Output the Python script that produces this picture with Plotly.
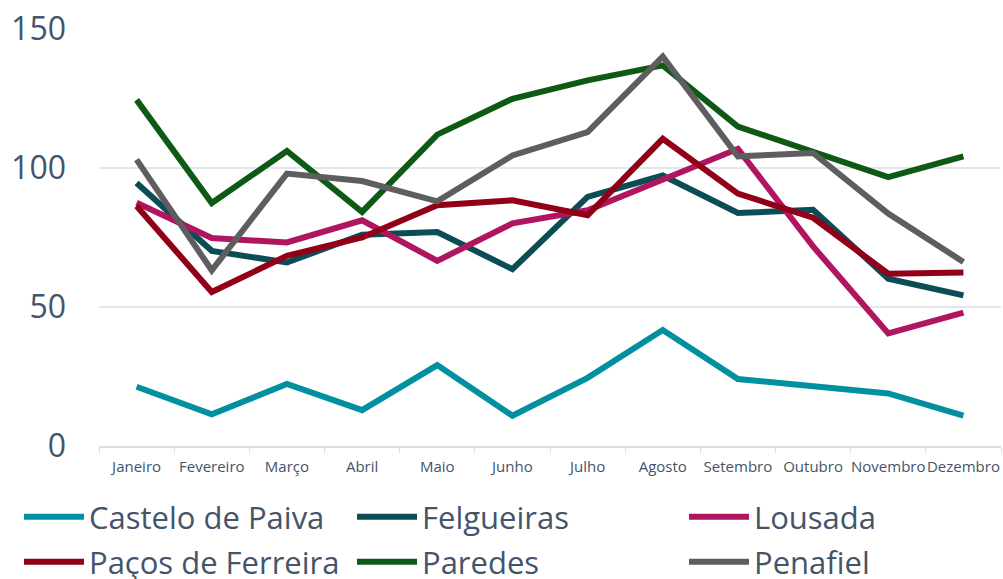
import plotly.graph_objects as go

months = ["Janeiro", "Fevereiro", "Março", "Abril", "Maio", "Junho", "Julho",
          "Agosto", "Setembro", "Outubro", "Novembro", "Dezembro"]

castelo_de_paiva = [21.3, 11.4, 22.3, 12.9, 29.1, 10.9, 24.5, 41.7, 24.1, 21.7, 18.9, 10.9]
felgueiras = [94.6, 70.2, 66.0, 76.0, 77.0, 63.6, 89.6, 97.3, 83.8, 85.0, 60.2, 54.2]
lousada = [87.5, 74.8, 73.2, 81.2, 66.6, 80.1, 84.8, 95.8, 106.9, 71.8, 40.5, 48.0]
pacos_de_ferreira = [86.3, 55.4, 68.4, 75.0, 86.6, 88.4, 83.0, 110.5, 90.8, 82.1, 62.0, 62.4]
paredes = [124.5, 87.4, 106.1, 84.2, 112.0, 124.9, 131.5, 136.9, 114.9, 105.7, 96.7, 104.2]
penafiel = [103.0, 63.2, 98.0, 95.3, 88.0, 104.5, 112.9, 140.1, 104.2, 105.4, 83.6, 66.2]

names = ["Castelo de Paiva", "Felgueiras", "Lousada",
         "Paços de Ferreira", "Paredes", "Penafiel"]
values = [castelo_de_paiva, felgueiras, lousada, pacos_de_ferreira, paredes, penafiel]
colors = ["#0090A0", "#0B4C55", "#B01560", "#920018", "#0E5A14", "#5E5E5E"]

W, H = 1003, 579
legend_x_px = [19, 352, 684]
legend_y_px = [517, 562]

fig = go.Figure()
text_color = "#44546A"
legends = {}
for i, (name, vals, color) in enumerate(zip(names, values, colors)):
    key = "legend" if i == 0 else f"legend{i + 1}"
    fig.add_trace(go.Scatter(x=months, y=vals, name=name, mode="lines",
                             line=dict(color=color, width=6), legend=key))
    legends[key] = dict(orientation="h", xref="container", yref="container",
                        x=legend_x_px[i % 3] / W, xanchor="left",
                        y=1 - legend_y_px[i // 3] / H, yanchor="middle",
                        font=dict(size=31, color=text_color),
                        itemwidth=60, bgcolor="rgba(0,0,0,0)")

fig.update_layout(
    width=W, height=H,
    margin=dict(l=99, r=2, t=29, b=133, autoexpand=False),
    plot_bgcolor="white", paper_bgcolor="white",
    font=dict(family="Open Sans", color=text_color),
    showlegend=True,
    xaxis=dict(range=[-0.5, 11.5], showgrid=False, showline=True,
               linecolor="#D9DEE6", linewidth=1.5,
               ticks="outside", tickson="boundaries", ticklen=5, tickcolor="#D9DEE6",
               tickangle=0, ticklabelstandoff=6,
               tickfont=dict(size=15, color=text_color)),
    yaxis=dict(range=[0, 150], tickvals=[0, 50, 100, 150], showgrid=True,
               gridcolor="#E1E5EC", gridwidth=1.5, zeroline=False,
               tickfont=dict(size=32, color=text_color), ticklen=0, ticks="",
               ticklabelstandoff=32),
    **legends,
)
fig.write_html("out.html", config={"displayModeBar": False},
               post_script="document.body.style.margin='0';document.body.style.overflow='hidden';")
